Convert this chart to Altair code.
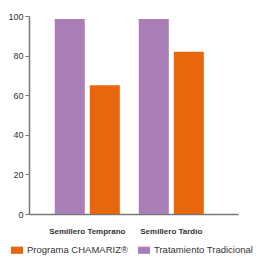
import altair as alt
import pandas as pd

categories = ["Semillero Temprano", "Semillero Tardío"]
series = ["Programa CHAMARIZ®", "Tratamiento Tradicional"]
chamariz = [65, 82]
tradicional = [98.5, 98.5]
y_ticks = [0, 20, 40, 60, 80, 100]

rows = []
for i, c in enumerate(categories):
    rows.append({"cat": c, "serie": series[0], "val": chamariz[i]})
    rows.append({"cat": c, "serie": series[1], "val": tradicional[i]})
df = pd.DataFrame(rows)

font = "Liberation Sans, sans-serif"

chart = alt.Chart(df).mark_bar().encode(
    x=alt.X("cat:N", sort=categories, title=None,
            scale=alt.Scale(paddingInner=0.226, paddingOuter=0.357, align=0.43),
            axis=alt.Axis(labelAngle=0, ticks=False, domainColor="#777777", domainWidth=1.5,
                          labelFont=font, labelFontWeight="bold", labelFontSize=8,
                          labelColor="#333333", labelPadding=13)),
    xOffset=alt.XOffset("serie:N", sort=[series[1], series[0]],
                        scale=alt.Scale(paddingInner=0.143, paddingOuter=0)),
    y=alt.Y("val:Q", title=None, scale=alt.Scale(domain=[0, 100], nice=False),
            axis=alt.Axis(values=y_ticks, grid=False, domainColor="#777777", domainWidth=1.5,
                          tickColor="#777777", tickSize=4, labelFont=font, labelFontSize=9,
                          labelColor="#333333", labelPadding=2)),
    color=alt.Color("serie:N", sort=series,
                    scale=alt.Scale(domain=series, range=["#E8670C", "#A97DB6"]),
                    legend=alt.Legend(title=None, orient="none", direction="horizontal",
                                      legendX=-18, legendY=228,
                                      symbolType="M-1,-0.6H1V0.6H-1Z",
                                      symbolSize=144, symbolStrokeWidth=0,
                                      labelFont=font, labelFontSize=9.5, labelColor="#333333",
                                      labelOffset=4, columnPadding=10)),
).properties(
    width=209, height=198,
    autosize=alt.AutoSizeParams(type="none"),
    padding={"left": 21, "top": 8, "right": 16, "bottom": 41},
).configure_view(stroke=None)

chart.save("out.html", embed_options={"renderer": "svg", "actions": False})
